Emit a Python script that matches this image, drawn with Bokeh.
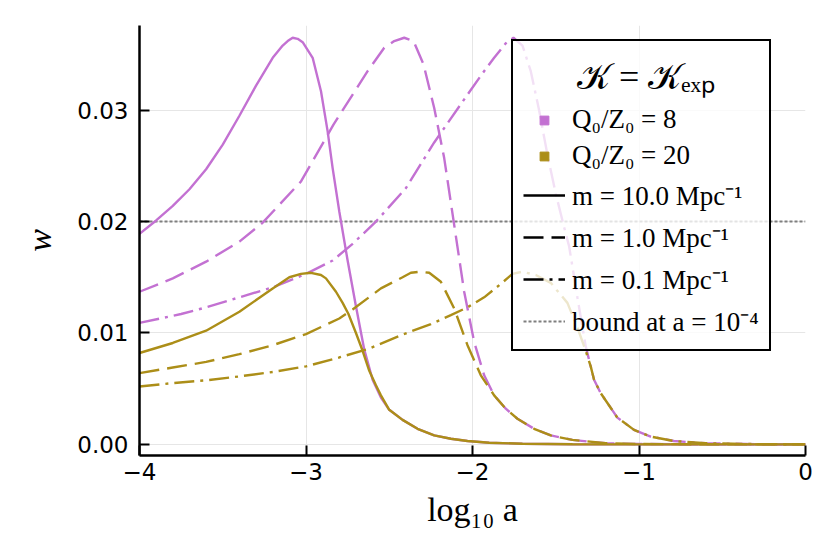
from bokeh.plotting import figure
from bokeh.models import Legend, LegendItem, FixedTicker, NumeralTickFormatter, Range1d
from bokeh.embed import file_html
from bokeh.resources import INLINE

# ---------------- data ----------------
# Q0/Z0 = 8, m = 10 Mpc^-1
x_p10 = [-4.0, -3.9, -3.8, -3.7, -3.6, -3.5, -3.4, -3.3, -3.2, -3.14, -3.11, -3.08, -3.05, -3.02,
         -2.96, -2.91, -2.87, -2.84, -2.80, -2.75, -2.70, -2.65, -2.60, -2.55, -2.50, -2.42,
         -2.33, -2.23, -2.13, -2.03, -1.9, -1.7, -1.4, -1.0, -0.5, 0.0]
w_p10 = [0.0189, 0.0201, 0.0214, 0.0229, 0.0247, 0.0269, 0.0295, 0.0322, 0.0347, 0.0358, 0.0362,
         0.0365, 0.0364, 0.0361, 0.0347, 0.0317, 0.0281, 0.0248, 0.0209, 0.0165, 0.0124, 0.0085,
         0.0058, 0.0042, 0.0031, 0.0022, 0.0014, 0.0008, 0.0005, 0.0003, 0.00015, 0.00005,
         0.00001, 0.0, 0.0, 0.0]
# Q0/Z0 = 20, m = 10 Mpc^-1
x_g10 = [-4.0, -3.8, -3.6, -3.4, -3.2, -3.1, -3.03, -2.97, -2.91, -2.88, -2.82, -2.78, -2.745,
         -2.70, -2.66, -2.62, -2.58, -2.55, -2.50, -2.42, -2.33, -2.23, -2.13, -2.03, -1.9,
         -1.7, -1.4, -1.0, -0.5, 0.0]
w_g10 = [0.0082, 0.0091, 0.0102, 0.0119, 0.0140, 0.0150, 0.0153, 0.0154, 0.0152, 0.0149, 0.0137,
         0.0127, 0.0117, 0.0100, 0.0084, 0.0066, 0.0053, 0.0044, 0.0031, 0.0022, 0.0014,
         0.0008, 0.0005, 0.0003, 0.00015, 0.00005, 0.00001, 0.0, 0.0, 0.0]
# Q0/Z0 = 8, m = 1 Mpc^-1
x_p1 = [-4.0, -3.8, -3.6, -3.4, -3.26, -3.03, -2.835, -2.63, -2.53, -2.47, -2.41, -2.354, -2.294,
        -2.23, -2.17, -2.11, -2.05, -1.99, -1.93, -1.87, -1.80, -1.73, -1.63, -1.53, -1.4, -1.2,
        -1.0, -0.5, 0.0]
w_p1 = [0.0137, 0.0149, 0.0164, 0.0182, 0.0199, 0.0236, 0.0287, 0.0335, 0.0356, 0.0362, 0.0365,
        0.0362, 0.0341, 0.0302, 0.0257, 0.0197, 0.0137, 0.0092, 0.0062, 0.0044, 0.0032, 0.0023,
        0.0014, 0.0008, 0.0004, 0.0001, 0.00003, 0.0, 0.0]
# Q0/Z0 = 20, m = 1 Mpc^-1
x_g1 = [-4.0, -3.8, -3.6, -3.4, -3.2, -3.0, -2.8, -2.72, -2.55, -2.42, -2.37, -2.31, -2.26,
        -2.19, -2.11, -2.03, -1.95, -1.87, -1.80, -1.73, -1.63, -1.53, -1.4, -1.2, -1.0, -0.5,
        0.0]
w_g1 = [0.0064, 0.0069, 0.0074, 0.0081, 0.0089, 0.0099, 0.0113, 0.0121, 0.0140, 0.0150, 0.0154,
        0.0155, 0.0154, 0.0146, 0.0122, 0.0089, 0.0062, 0.0044, 0.0032, 0.0023, 0.0014, 0.0008,
        0.0004, 0.0001, 0.00003, 0.0, 0.0]
# Q0/Z0 = 8, m = 0.1 Mpc^-1
x_p01 = [-4.0, -3.75, -3.6, -3.4, -3.2, -3.0, -2.84, -2.72, -2.58, -2.40, -2.23, -2.03, -1.94,
         -1.87, -1.80, -1.754, -1.70, -1.65, -1.60, -1.55, -1.50, -1.45, -1.42, -1.37, -1.32,
         -1.29, -1.27, -1.23, -1.13, -1.03, -0.93, -0.79, -0.6, -0.3, 0.0]
w_p01 = [0.0109, 0.0117, 0.0123, 0.0132, 0.0141, 0.0153, 0.0165, 0.0180, 0.0200, 0.0230, 0.0271,
         0.0314, 0.0333, 0.0347, 0.0360, 0.0365, 0.0358, 0.0335, 0.0300, 0.0260, 0.0225, 0.0195,
         0.0178, 0.0132, 0.0088, 0.0070, 0.0058, 0.0046, 0.0024, 0.0013, 0.0007, 0.0003,
         0.0001, 0.00002, 0.0]
# Q0/Z0 = 20, m = 0.1 Mpc^-1
x_g01 = [-4.0, -3.8, -3.6, -3.4, -3.2, -3.0, -2.8, -2.62, -2.43, -2.25, -2.13, -2.03, -1.93,
         -1.83, -1.76, -1.70, -1.62, -1.53, -1.43, -1.37, -1.32, -1.29, -1.27, -1.23, -1.13,
         -1.03, -0.93, -0.79, -0.6, -0.3, 0.0]
w_g01 = [0.0052, 0.0055, 0.00575, 0.0061, 0.0065, 0.0070, 0.0078, 0.0086, 0.0098, 0.0108,
         0.0116, 0.0123, 0.0132, 0.0144, 0.0153, 0.0155, 0.0152, 0.0145, 0.0127, 0.0105, 0.0084,
         0.0070, 0.0058, 0.0046, 0.0024, 0.0013, 0.0007, 0.0003, 0.0001, 0.00002, 0.0]

bound_x = [-4.0, 0.0]
bound_w = [0.02, 0.02]

x_ticks = [-4, -3, -2, -1, 0]
x_tick_labels = ["\u22124", "\u22123", "\u22122", "\u22121", "0"]
y_ticks = [0.0, 0.01, 0.02, 0.03]

labels_q = ["Q\u2080/Z\u2080 = 8", "Q\u2080/Z\u2080 = 20"]
labels_m = ["m = 10.0 Mpc\u207b\u00b9", "m = 1.0 Mpc\u207b\u00b9", "m = 0.1 Mpc\u207b\u00b9"]
label_bound = "bound at a = 10\u207b\u2074"
legend_title = "\U0001D4A6 = \U0001D4A6\u2091\u2093\u209a"
legend_dummy = [float("nan")]

PURPLE = "#c371d2"
GOLD = "#ac8e18"
LW = 2.4
DASH = "20 8"
DASHDOT = "20 6 3 6"

# ---------------- figure ----------------
p = figure(width=822, height=546, output_backend="svg", toolbar_location=None,
           x_range=Range1d(-4, 0), y_range=Range1d(-0.001, 0.0376),
           min_border_left=139, min_border_right=17, min_border_top=25,
           min_border_bottom=91)
p.outline_line_color = None
p.background_fill_color = "white"
p.border_fill_color = "white"

bound = p.line(bound_x, bound_w, line_color="#7f7f7f", line_width=2, line_dash="3 2")

p.line(x_p10, w_p10, line_color=PURPLE, line_width=LW)
p.line(x_p1, w_p1, line_color=PURPLE, line_width=LW, line_dash=DASH)
p.line(x_p01, w_p01, line_color=PURPLE, line_width=LW, line_dash=DASHDOT)
p.line(x_g10, w_g10, line_color=GOLD, line_width=LW)
p.line(x_g1, w_g1, line_color=GOLD, line_width=LW, line_dash=DASH)
p.line(x_g01, w_g01, line_color=GOLD, line_width=LW, line_dash=DASHDOT)

# legend-only renderers (nothing visible in the plot area)
sq8 = p.scatter(legend_dummy, legend_dummy, marker="square", fill_color=PURPLE, line_color=PURPLE)
sq20 = p.scatter(legend_dummy, legend_dummy, marker="square", fill_color=GOLD, line_color=GOLD)
l10 = p.line(legend_dummy, legend_dummy, line_color="black", line_width=LW)
l1 = p.line(legend_dummy, legend_dummy, line_color="black", line_width=LW, line_dash=DASH)
l01 = p.line(legend_dummy, legend_dummy, line_color="black", line_width=LW, line_dash=DASHDOT)

# axes
xa = p.xaxis[0]
ya = p.yaxis[0]
xa.ticker = FixedTicker(ticks=x_ticks)
xa.major_label_overrides = {t: s for t, s in zip(x_ticks, x_tick_labels)}
ya.ticker = FixedTicker(ticks=y_ticks)
ya.formatter = NumeralTickFormatter(format="0.00")
for ax in (xa, ya):
    ax.axis_line_width = 2.5
    ax.axis_line_color = "black"
    ax.major_tick_in = 10
    ax.major_tick_out = 0
    ax.major_tick_line_width = 2
    ax.major_tick_line_color = "black"
    ax.minor_tick_line_color = None
    ax.major_label_text_font = "DejaVu Sans"
    ax.major_label_text_font_size = "23px"
    ax.major_label_text_color = "black"
    ax.axis_label_text_font = "Liberation Serif"
    ax.axis_label_text_font_size = "34px"
    ax.axis_label_text_color = "black"
xa.axis_label = "log\u2081\u2080 a"
xa.axis_label_text_font_style = "normal"
xa.major_label_standoff = 7
xa.axis_label_standoff = 8
ya.axis_label = "w"
ya.axis_label_text_font_style = "italic"
ya.major_label_standoff = 11
ya.axis_label_standoff = 16

p.xgrid.ticker = FixedTicker(ticks=x_ticks)
p.ygrid.ticker = FixedTicker(ticks=y_ticks)
for g in (p.xgrid, p.ygrid):
    g.grid_line_color = "#e6e6e6"
    g.grid_line_width = 1

legend = Legend(
    items=[LegendItem(label=labels_q[0], renderers=[sq8]),
           LegendItem(label=labels_q[1], renderers=[sq20]),
           LegendItem(label=labels_m[0], renderers=[l10]),
           LegendItem(label=labels_m[1], renderers=[l1]),
           LegendItem(label=labels_m[2], renderers=[l01]),
           LegendItem(label=label_bound, renderers=[bound])],
    location=(372, 104),
    title="\u2003\u2004\u2006" + legend_title,
    title_text_font="Liberation Serif", title_text_font_size="36px",
    title_text_font_style="normal", title_text_color="black", title_standoff=4,
    label_text_font="Liberation Serif", label_text_font_size="27px",
    label_text_color="black",
    glyph_width=42, glyph_height=22, label_height=30, label_standoff=7,
    spacing=5, padding=10, margin=0,
    border_line_color="black", border_line_width=2.5, border_line_alpha=1.0,
    background_fill_color="white", background_fill_alpha=0.78,
)
p.add_layout(legend)

open("out.html", "w").write(file_html(p, INLINE))
